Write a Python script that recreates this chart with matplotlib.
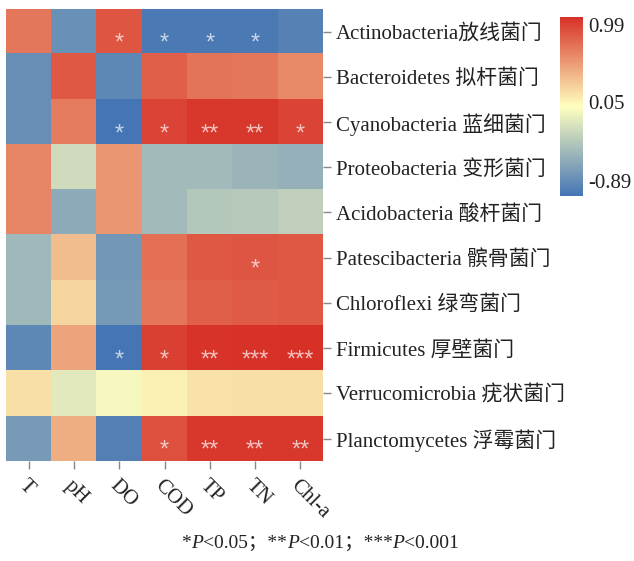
import numpy as np
import matplotlib
matplotlib.use("Agg")
import matplotlib.pyplot as plt
from matplotlib.colors import LinearSegmentedColormap

phyla = ["Actinobacteria放线菌门", "Bacteroidetes 拟杆菌门", "Cyanobacteria 蓝细菌门",
         "Proteobacteria 变形菌门", "Acidobacteria 酸杆菌门", "Patescibacteria 髌骨菌门",
         "Chloroflexi 绿弯菌门", "Firmicutes 厚壁菌门", "Verrucomicrobia 疣状菌门",
         "Planctomycetes 浮霉菌门"]
factors = ["T", "pH", "DO", "COD", "TP", "TN", "Chl-a"]

# correlation coefficients
r_values = np.array([
    [0.66, -0.70, 0.82, -0.86, -0.86, -0.86, -0.80],
    [-0.71, 0.80, -0.76, 0.77, 0.68, 0.66, 0.58],
    [-0.71, 0.64, -0.89, 0.90, 0.95, 0.95, 0.90],
    [0.60, -0.19, 0.52, -0.42, -0.42, -0.45, -0.48],
    [0.60, -0.53, 0.52, -0.42, -0.33, -0.31, -0.27],
    [-0.43, 0.35, -0.65, 0.70, 0.80, 0.81, 0.80],
    [-0.43, 0.24, -0.64, 0.67, 0.77, 0.79, 0.80],
    [-0.76, 0.46, -0.89, 0.91, 0.97, 0.98, 0.99],
    [0.19, -0.09, 0.00, 0.11, 0.18, 0.19, 0.19],
    [-0.63, 0.42, -0.81, 0.84, 0.95, 0.95, 0.95],
])

signif = [
    ["", "", "*", "*", "*", "*", ""],
    ["", "", "", "", "", "", ""],
    ["", "", "*", "*", "**", "**", "*"],
    ["", "", "", "", "", "", ""],
    ["", "", "", "", "", "", ""],
    ["", "", "", "", "", "*", ""],
    ["", "", "", "", "", "", ""],
    ["", "", "*", "*", "**", "***", "***"],
    ["", "", "", "", "", "", ""],
    ["", "", "", "*", "**", "**", "**"],
]

cbar_ticks = [-0.89, 0.05, 0.99]

plt.rcParams['font.family'] = ['Liberation Serif', 'Noto Sans CJK SC']

cmap = LinearSegmentedColormap.from_list("blue_red", ["#4575b4", "#ffffbf", "#d73027"])
vmin, vmax = -0.89, 0.99

fig = plt.figure(figsize=(6.34, 5.61), dpi=100)
ax = fig.add_axes([0.0095, 0.178, 0.5, 0.806])
im = ax.imshow(r_values, cmap=cmap, vmin=vmin, vmax=vmax, aspect='auto', interpolation='nearest')

for i in range(len(phyla)):
    for j in range(len(factors)):
        if signif[i][j]:
            ax.text(j, i + 0.27, signif[i][j], ha='center', va='center',
                    fontsize=17, family='Liberation Sans', color='white', alpha=0.7)

for s in ax.spines.values():
    s.set_visible(False)
ax.yaxis.tick_right()
ax.set_yticks(range(len(phyla)))
ax.set_yticklabels(phyla, fontsize=15, color='#222222')
ax.set_xticks(range(len(factors)))
ax.set_xticklabels(factors, fontsize=15, color='#222222', rotation=-45,
                   ha='left', va='top', rotation_mode='anchor')
ax.tick_params(axis='both', length=6, width=1, color='#888888', pad=3)
ax.tick_params(axis='x', pad=5)

# colour bar
cax = fig.add_axes([0.883, 0.651, 0.036, 0.319])
cb = fig.colorbar(im, cax=cax)
cb.outline.set_visible(False)
rng = vmax - vmin
cb.set_ticks([vmin + 0.08 * rng, vmin + 0.525 * rng, vmax - 0.045 * rng])
cb.set_ticklabels(["%.2f" % t for t in cbar_ticks])
cax.tick_params(length=0, labelsize=15, pad=4, labelcolor='#222222')

# footnote with italic P
pieces = [("*", "normal"), ("P", "italic"), ("<0.05；**", "normal"), ("P", "italic"),
          ("<0.01；***", "normal"), ("P", "italic"), ("<0.001", "normal")]
renderer = fig.canvas.get_renderer()
texts = []
x = 0
for txt, style in pieces:
    t = fig.text(x, 0.023, txt, fontsize=14, style=style, ha='left', va='baseline', color='#222222')
    w = t.get_window_extent(renderer).width / fig.bbox.width
    texts.append((t, x))
    x += w
shift = 0.505 - x / 2
for t, x0 in texts:
    t.set_x(x0 + shift)

fig.savefig("out.png", dpi=100)
